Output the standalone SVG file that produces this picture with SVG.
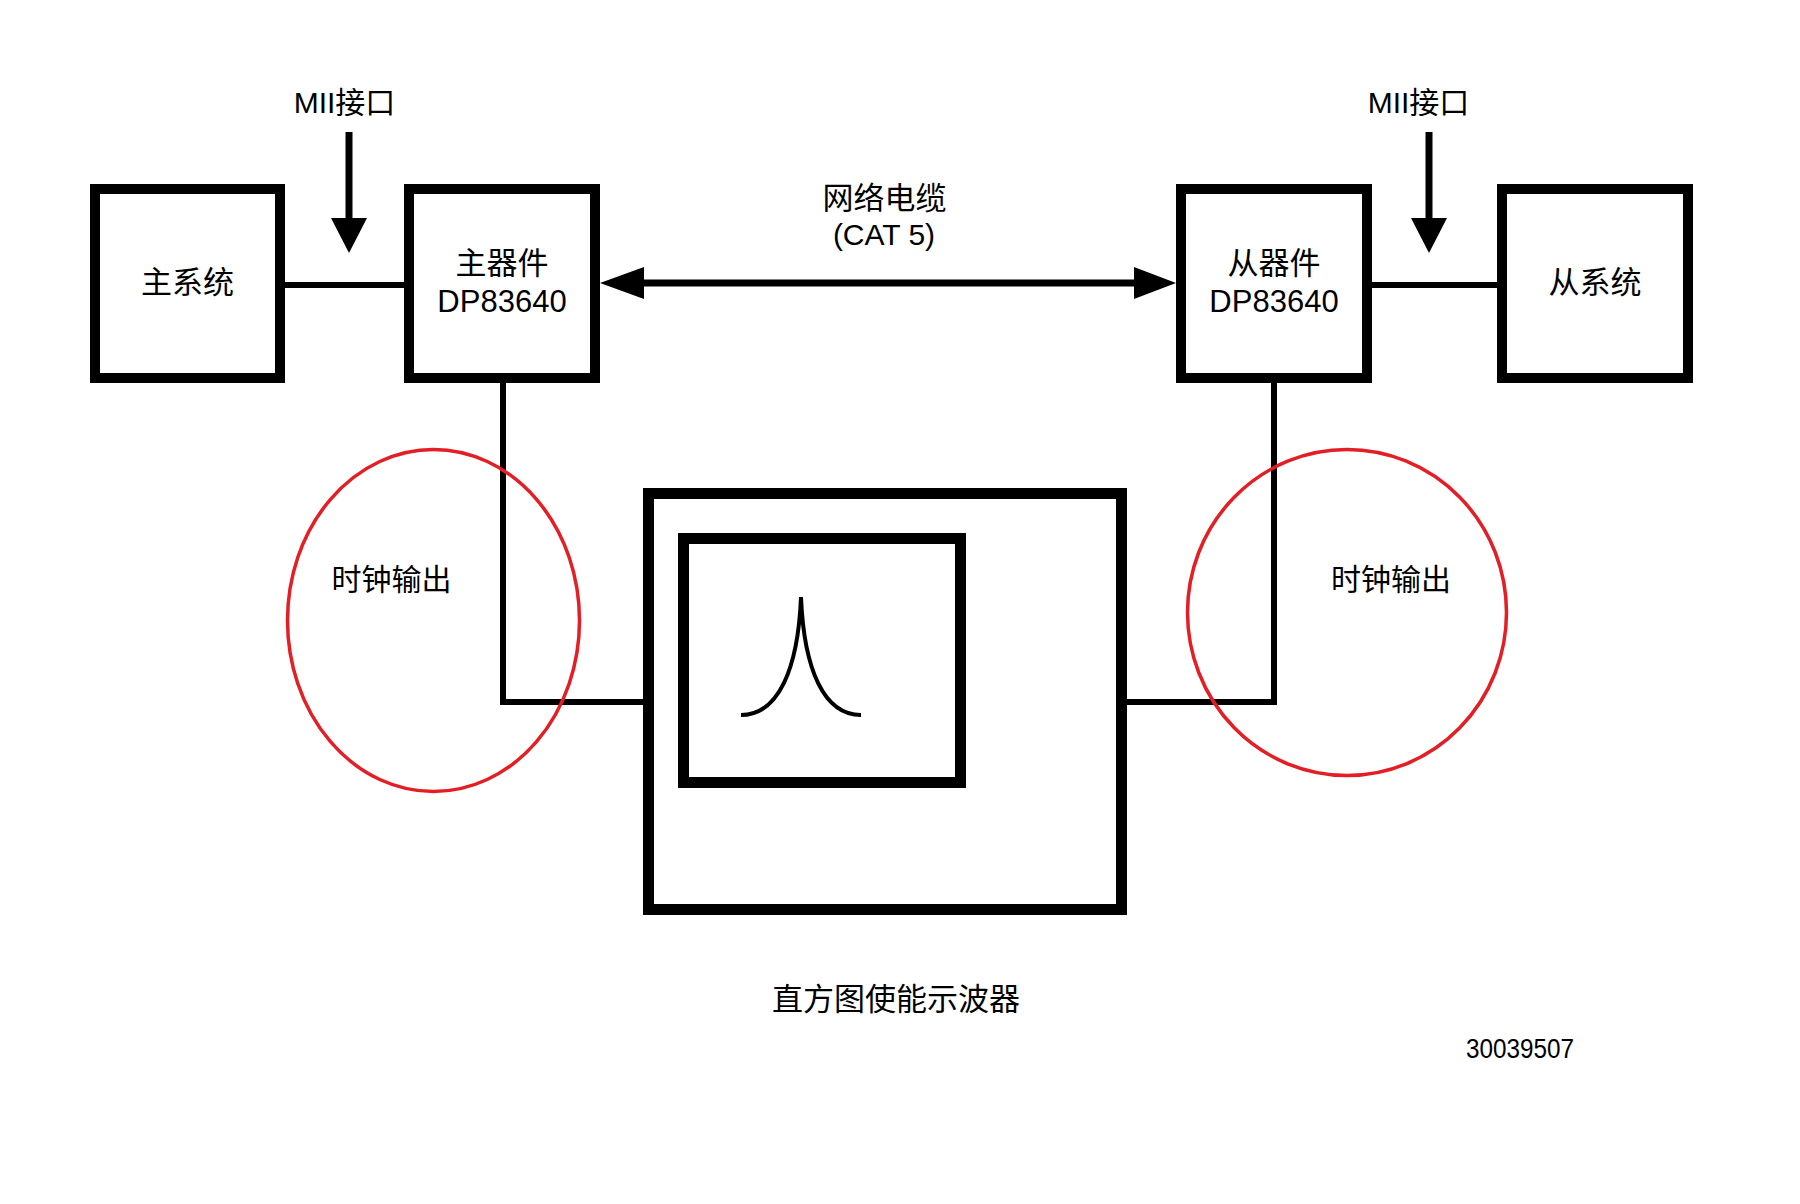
<svg xmlns="http://www.w3.org/2000/svg" width="1800" height="1204" viewBox="0 0 1800 1204">
<style>
.box{fill:#fff;stroke:#000;stroke-width:10}
.osc{fill:#fff;stroke:#000;stroke-width:11}
.wire{fill:none;stroke:#000;stroke-width:6}
.arr{fill:none;stroke:#000;stroke-width:7}
.head{fill:#000}
.ring{fill:none;stroke:#e31e24;stroke-width:3.5}
text{font-family:"Liberation Sans","Noto Sans CJK SC",sans-serif;fill:#000;text-anchor:middle}
.cjk{font-family:"Noto Sans CJK SC","Liberation Sans",sans-serif}
</style>
<rect width="1800" height="1204" fill="#fff"/>
<g id="connectors">
  <line class="wire" x1="285" y1="285" x2="404" y2="285"/>
  <line class="wire" x1="1372" y1="285" x2="1497" y2="285"/>
  <line class="arr" x1="349" y1="132" x2="349" y2="222"/>
  <polygon class="head" points="331,218 367,218 349,253"/>
  <line class="arr" x1="1429" y1="132" x2="1429" y2="222"/>
  <polygon class="head" points="1411,218 1447,218 1429,253"/>
  <line class="arr" x1="640" y1="283" x2="1138" y2="283"/>
  <polygon class="head" points="600,283 644,267 644,299"/>
  <polygon class="head" points="1176,283 1134,267 1134,299"/>
  <polyline class="wire" points="503,383 503,702 643,702"/>
  <polyline class="wire" points="1274,383 1274,702 1127,702"/>
</g>
<g id="host-master">
  <rect class="box" x="95" y="189" width="185" height="189"/>
  <text class="cjk" x="187.5" y="293" font-size="31">主系统</text>
</g>
<g id="phy-master">
  <rect class="box" x="409" y="189" width="186" height="189"/>
  <text class="cjk" x="502" y="274" font-size="31">主器件</text>
  <text x="502" y="312" font-size="31">DP83640</text>
</g>
<g id="phy-slave">
  <rect class="box" x="1181" y="189" width="186" height="189"/>
  <text class="cjk" x="1274" y="274" font-size="31">从器件</text>
  <text x="1274" y="312" font-size="31">DP83640</text>
</g>
<g id="host-slave">
  <rect class="box" x="1502" y="189" width="186" height="189"/>
  <text class="cjk" x="1595" y="293" font-size="31">从系统</text>
</g>
<g id="label-mii-left">
  <text x="344.5" y="113" font-size="30">MII接口</text>
</g>
<g id="label-mii-right">
  <text x="1418.5" y="113" font-size="30">MII接口</text>
</g>
<g id="label-cable">
  <text class="cjk" x="884.5" y="209" font-size="31">网络电缆</text>
  <text x="884" y="245" font-size="30">(CAT 5)</text>
</g>
<g id="oscilloscope">
  <rect class="osc" x="648.5" y="493.5" width="473" height="416"/>
  <rect class="osc" x="683.5" y="538.5" width="277" height="244"/>
  <path d="M741,715 C778,715 798,670 801,597 C804,670 824,715 861,715" fill="none" stroke="#000" stroke-width="4"/>
  <text class="cjk" x="896" y="1010" font-size="31">直方图使能示波器</text>
</g>
<g id="clock-out-left">
  <ellipse class="ring" cx="433.5" cy="620.5" rx="146" ry="171"/>
  <text class="cjk" x="391.5" y="590" font-size="30">时钟输出</text>
</g>
<g id="clock-out-right">
  <ellipse class="ring" cx="1347" cy="612.5" rx="159.5" ry="163"/>
  <text class="cjk" x="1391" y="590" font-size="30">时钟输出</text>
</g>
<g id="figure-id">
  <text x="1520" y="1058" font-size="27" textLength="108" lengthAdjust="spacingAndGlyphs">30039507</text>
</g>
</svg>
